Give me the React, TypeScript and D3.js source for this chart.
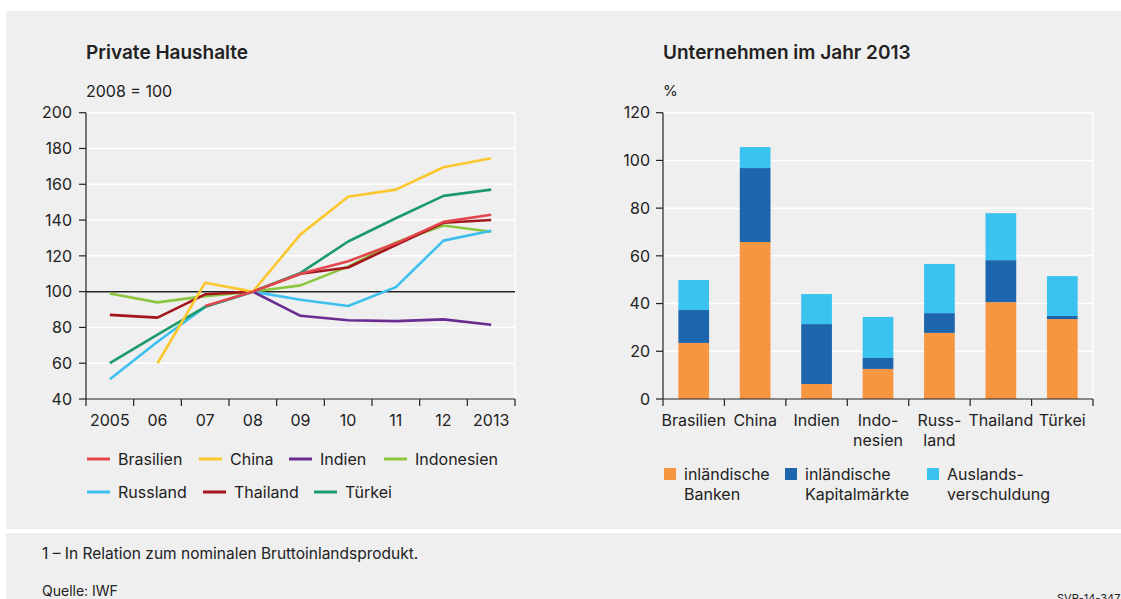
import React from 'react';
import * as d3 from 'd3';

const years = ['2005', '06', '07', '08', '09', '10', '11', '12', '2013'];

const brasilien = [null, null, 92, 100, 110, 117, 127, 139, 143];
const china = [null, 60, 105, 100, 132, 153, 157, 169.5, 174.5];
const indien = [null, null, null, 100, 86.5, 84, 83.5, 84.5, 81.5];
const indonesien = [99, 94, 97.5, 100, 103.5, 114, 127.5, 137, 133.5];
const russland = [51, 72, 91.5, 100, 95.5, 92, 102.5, 128.5, 134];
const thailand = [87, 85.5, 98.5, 100, 110, 113.5, 126, 138.5, 140];
const tuerkei = [60, 76, 91.5, 100, 110.5, 128, 141, 153.5, 157];

const lineTicks = [40, 60, 80, 100, 120, 140, 160, 180, 200];

const countries = ['Brasilien', 'China', 'Indien', 'Indo-|nesien', 'Russ-|land', 'Thailand', 'Türkei'];
const banken = [23.5, 65.8, 6.3, 12.6, 27.7, 40.6, 33.5];
const kapital = [13.8, 31, 25.1, 4.6, 8.3, 17.6, 1.3];
const ausland = [12.6, 8.8, 12.6, 17.2, 20.6, 19.7, 16.7];
const barTicks = [0, 20, 40, 60, 80, 100, 120];

const lineSeries = [
  { name: 'Indonesien', values: indonesien, color: '#8cc63f' },
  { name: 'Russland', values: russland, color: '#3ec0ef' },
  { name: 'Thailand', values: thailand, color: '#a3161d' },
  { name: 'Türkei', values: tuerkei, color: '#1c9a6c' },
  { name: 'Indien', values: indien, color: '#6b2c91' },
  { name: 'China', values: china, color: '#fcc72e' },
  { name: 'Brasilien', values: brasilien, color: '#e2474d' },
];

const lineLegend = [
  { name: 'Brasilien', x: 87, y: 459 },
  { name: 'China', x: 199, y: 459 },
  { name: 'Indien', x: 289, y: 459 },
  { name: 'Indonesien', x: 384, y: 459 },
  { name: 'Russland', x: 87, y: 492 },
  { name: 'Thailand', x: 203, y: 492 },
  { name: 'Türkei', x: 314, y: 492 },
];

const barKeys = ['banken', 'kapital', 'ausland'];
const barColors = { banken: '#f79641', kapital: '#1d66ad', ausland: '#3bc3ef' };
const barLegend = [
  { key: 'banken', lines: ['inländische', 'Banken'], x: 664 },
  { key: 'kapital', lines: ['inländische', 'Kapitalmärkte'], x: 785 },
  { key: 'ausland', lines: ['Auslands-', 'verschuldung'], x: 927 },
];

const FONT = 'Inter, "Liberation Sans", sans-serif';
const TEXT = '#222';

export default function App() {
  // left chart
  const L = { left: 86, right: 515, top: 112.7, bottom: 399 };
  const xl = d3.scalePoint<string>().domain(years).range([L.left, L.right]).padding(0.5);
  const xlBand = d3.scaleBand<string>().domain(years).range([L.left, L.right]);
  const yl = d3.scaleLinear().domain([40, 200]).range([L.bottom, L.top]);
  const line = d3
    .line<number | null>()
    .defined((d) => d != null)
    .x((_, i) => xl(years[i]) as number)
    .y((d) => yl(d as number));

  // right chart
  const R = { left: 663, right: 1093, top: 112.7, bottom: 399 };
  const xr = d3.scaleBand<string>().domain(countries).range([R.left, R.right]).paddingInner(0.5).paddingOuter(0.25);
  const xrBand = d3.scaleBand<string>().domain(countries).range([R.left, R.right]);
  const yr = d3.scaleLinear().domain([0, 120]).range([R.bottom, R.top]);
  const rows = countries.map((c, i) => ({ c, banken: banken[i], kapital: kapital[i], ausland: ausland[i] }));
  const stacked = d3.stack<any>().keys(barKeys)(rows);

  return (
    <svg width={1121} height={599} style={{ position: 'absolute', left: 0, top: 0 }} fontFamily={FONT}>
      <rect x={0} y={0} width={1121} height={599} fill="#fff" />
      <rect x={6} y={11} width={1115} height={518} fill="#efefef" />
      <rect x={6} y={533} width={1115} height={66} fill="#efefef" />

      {/* left chart */}
      <text x={86} y={59} fontSize={19} fontWeight={600} fill={TEXT}>Private Haushalte</text>
      <text x={86} y={97} fontSize={16} fill={TEXT}>2008 = 100</text>
      {lineTicks.map((t) => (
        <g key={t}>
          {t !== 40 && <line x1={L.left} x2={L.right} y1={yl(t)} y2={yl(t)} stroke="#fff" strokeWidth={1.5} />}
          <line x1={L.left - 7} x2={L.left} y1={yl(t)} y2={yl(t)} stroke={TEXT} strokeWidth={1.2} />
          <text x={72} y={yl(t)} dy="0.36em" textAnchor="end" fontSize={16} fill={TEXT}>{t}</text>
        </g>
      ))}
      <line x1={L.right} x2={L.right} y1={L.top} y2={L.bottom} stroke="#fff" strokeWidth={1.5} />
      <line x1={L.left} x2={L.right} y1={yl(100)} y2={yl(100)} stroke="#222" strokeWidth={1.5} />
      {lineSeries.map((s) => (
        <path key={s.name} d={line(s.values) || ''} fill="none" stroke={s.color} strokeWidth={2.6} strokeLinejoin="round" />
      ))}
      <line x1={L.left} x2={L.left} y1={L.top} y2={L.bottom} stroke={TEXT} strokeWidth={1.2} />
      <line x1={L.left} x2={L.right} y1={L.bottom} y2={L.bottom} stroke={TEXT} strokeWidth={1.2} />
      {years.map((y) => (
        <line key={y} x1={xlBand(y) as number} x2={xlBand(y) as number} y1={L.bottom} y2={L.bottom + 7} stroke={TEXT} strokeWidth={1.2} />
      ))}
      <line x1={L.right} x2={L.right} y1={L.bottom} y2={L.bottom + 7} stroke={TEXT} strokeWidth={1.2} />
      {years.map((y) => (
        <text key={y} x={xl(y)} y={426} textAnchor="middle" fontSize={16} fill={TEXT}>{y}</text>
      ))}
      {lineLegend.map((l) => {
        const s = lineSeries.find((d) => d.name === l.name)!;
        return (
          <g key={l.name}>
            <line x1={l.x} x2={l.x + 23} y1={l.y} y2={l.y} stroke={s.color} strokeWidth={3} />
            <text x={l.x + 31} y={l.y} dy="0.36em" fontSize={16} fill={TEXT}>{l.name}</text>
          </g>
        );
      })}

      {/* right chart */}
      <text x={663} y={59} fontSize={19} fontWeight={600} fill={TEXT}>Unternehmen im Jahr 2013</text>
      <text x={663} y={96} fontSize={15} fill={TEXT}>%</text>
      {barTicks.map((t) => (
        <g key={t}>
          {t !== 0 && <line x1={R.left} x2={R.right} y1={yr(t)} y2={yr(t)} stroke="#fff" strokeWidth={1.5} />}
          <line x1={R.left - 7} x2={R.left} y1={yr(t)} y2={yr(t)} stroke={TEXT} strokeWidth={1.2} />
          <text x={650} y={yr(t)} dy="0.36em" textAnchor="end" fontSize={16} fill={TEXT}>{t}</text>
        </g>
      ))}
      <line x1={R.right} x2={R.right} y1={R.top} y2={R.bottom} stroke="#fff" strokeWidth={1.5} />
      {stacked.map((layer) => (
        <g key={layer.key} fill={(barColors as any)[layer.key]}>
          {layer.map((d, i) => (
            <rect key={i} x={xr(countries[i])} width={xr.bandwidth()} y={yr(d[1])} height={yr(d[0]) - yr(d[1])} />
          ))}
        </g>
      ))}
      <line x1={R.left} x2={R.left} y1={R.top} y2={R.bottom} stroke={TEXT} strokeWidth={1.2} />
      <line x1={R.left} x2={R.right} y1={R.bottom} y2={R.bottom} stroke={TEXT} strokeWidth={1.2} />
      {countries.map((c) => (
        <line key={c} x1={xrBand(c) as number} x2={xrBand(c) as number} y1={R.bottom} y2={R.bottom + 7} stroke={TEXT} strokeWidth={1.2} />
      ))}
      <line x1={R.right} x2={R.right} y1={R.bottom} y2={R.bottom + 7} stroke={TEXT} strokeWidth={1.2} />
      {countries.map((c) => (
        <text key={c} x={(xr(c) as number) + xr.bandwidth() / 2} y={426} textAnchor="middle" fontSize={16} fill={TEXT}>
          {c.split('|').map((part, i) => (
            <tspan key={i} x={(xr(c) as number) + xr.bandwidth() / 2} dy={i === 0 ? 0 : 20}>{part}</tspan>
          ))}
        </text>
      ))}
      {barLegend.map((l) => (
        <g key={l.key}>
          <rect x={l.x} y={468} width={12} height={12} fill={(barColors as any)[l.key]} />
          <text x={l.x + 20} y={479.5} fontSize={16} fill={TEXT}>
            {l.lines.map((t, i) => (
              <tspan key={i} x={l.x + 20} dy={i === 0 ? 0 : 20}>{t}</tspan>
            ))}
          </text>
        </g>
      ))}

      {/* footer */}
      <text x={42} y={559} fontSize={15.5} fill={TEXT}>1 – In Relation zum nominalen Bruttoinlandsprodukt.</text>
      <text x={42} y={596} fontSize={14} fill={TEXT}>Quelle: IWF</text>
      <text x={1057} y={602} fontSize={11} fill={TEXT}>SVR-14-347</text>
    </svg>
  );
}
